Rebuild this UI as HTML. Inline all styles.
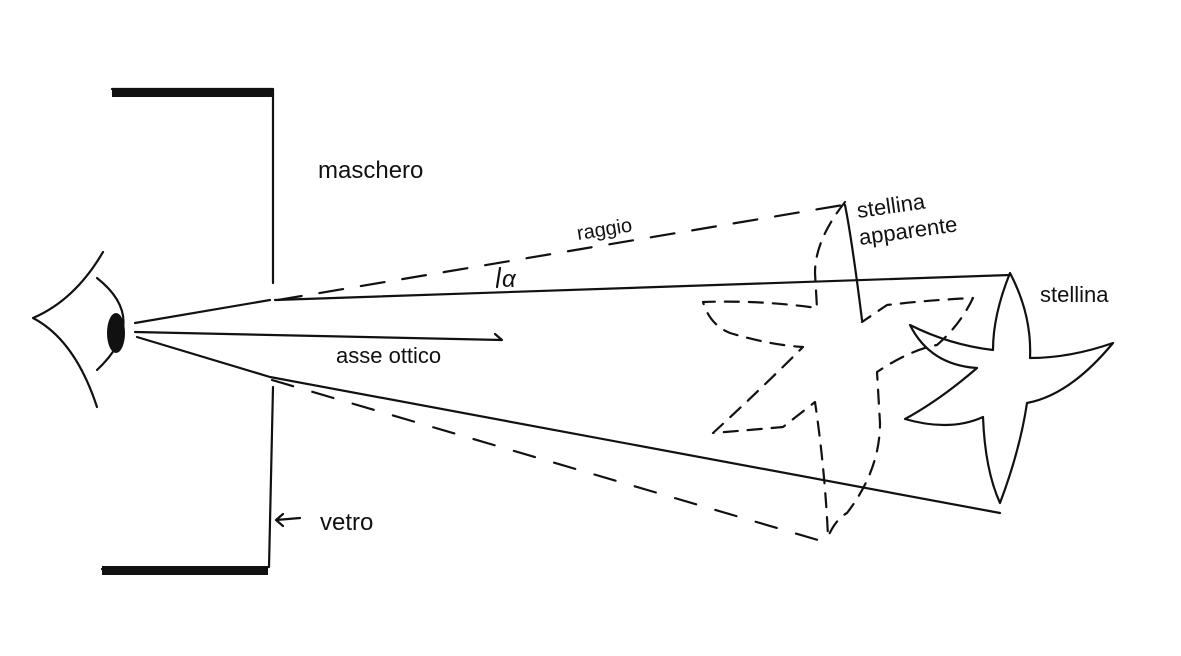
<!DOCTYPE html>
<html><head><style>
html,body{margin:0;padding:0;background:#fff;}
svg{display:block;}
text{font-family:"Liberation Sans",sans-serif;fill:#111;}
</style></head><body>
<svg width="1181" height="656" viewBox="0 0 1181 656" xmlns="http://www.w3.org/2000/svg">
<rect width="1181" height="656" fill="#fff"/>
<g stroke="#111" fill="none" stroke-width="2.2" stroke-linecap="round" stroke-linejoin="round">
<path d="M112,89 L273,89 L273,283"/>
<path d="M273,387 L269,567 L102,569"/>
<rect x="112" y="89" width="160" height="8" fill="#111" stroke="none"/>
<rect x="102" y="566" width="166" height="9" fill="#111" stroke="none"/>
<path d="M103,252 Q75,300 33,318 Q75,340 97,407"/>
<path d="M97,278 Q150,320 97,370"/>
<ellipse cx="116" cy="333" rx="9" ry="20" fill="#111" stroke="none"/>
<path d="M135,323 L270,300"/>
<path d="M275,300 L1010,275"/>
<path d="M135,332 L502,340 L495,334"/>
<path d="M137,337 L270,377 L1000,513"/>
<path d="M845,205 Q852,240 862,320"/>
<path d="M278,300 L843,205" stroke-dasharray="24,18"/>
<path d="M272,380 L835,545" stroke-dasharray="22,20"/>
<path d="M1010,273 Q993,315 993,350 Q950,345 910,325 Q930,365 977,368 Q940,400 905,419 Q950,432 983,417 Q985,470 1000,503 Q1020,450 1027,403 Q1070,395 1113,343 Q1070,358 1030,358 Q1032,315 1010,273 Z"/>
<path d="M845,202 Q815,240 815,273 L817,308 Q760,300 703,302 Q710,325 730,333 Q770,345 803,347 Q760,390 713,433 Q750,430 783,427 L815,402 Q825,470 828,537 Q835,520 847,513 Q880,470 880,423 L877,372 Q910,350 937,345 Q960,325 973,298 Q930,300 887,305 L862,322" stroke-dasharray="14,10"/>
<path d="M300,518 L276,520 M283,514 L276,520 L283,526"/>
<path d="M500,268 L497,287"/>
</g>
<text x="318" y="178" font-size="24">maschero</text>
<text x="578" y="240" font-size="20" transform="rotate(-9 578 240)">raggio</text>
<text x="502" y="287" font-size="24" font-style="italic">α</text>
<text x="336" y="363" font-size="22">asse ottico</text>
<text x="320" y="530" font-size="24">vetro</text>
<text x="858" y="218" font-size="22" transform="rotate(-8 858 218)">stellina</text>
<text x="860" y="245" font-size="22" transform="rotate(-8 860 245)">apparente</text>
<text x="1040" y="302" font-size="22">stellina</text>
</svg>
</body></html>
